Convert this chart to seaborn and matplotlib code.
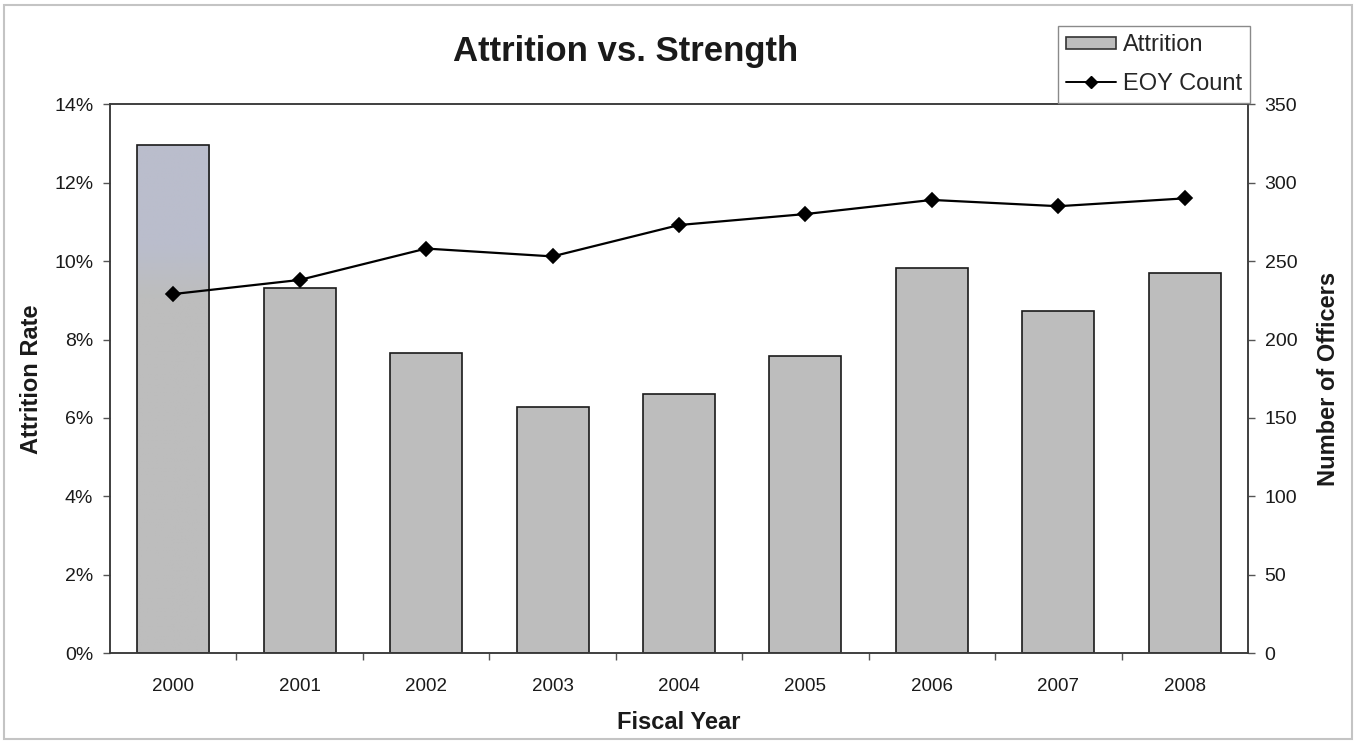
import matplotlib
matplotlib.use("Agg")
import matplotlib.pyplot as plt
import matplotlib.ticker as mticker
from matplotlib.patches import Patch, Rectangle
from matplotlib.lines import Line2D
from matplotlib.colors import to_rgb
import numpy as np
import seaborn as sns
import pandas as pd

# Fiscal years and the two series
years = ["2000", "2001", "2002", "2003", "2004", "2005", "2006", "2007", "2008"]
attrition_pct = [12.96, 9.32, 7.65, 6.29, 6.61, 7.59, 9.82, 8.74, 9.69]
eoy_count = [229, 238, 258, 253, 273, 280, 289, 285, 290]

rate_ticks = [0, 2, 4, 6, 8, 10, 12, 14]
count_ticks = [0, 50, 100, 150, 200, 250, 300, 350]

df = pd.DataFrame({"year": years, "attrition": attrition_pct, "count": eoy_count})

BAR_GRAY = "#bdbdbd"
BAR_TINT = "#babdcc"

sns.set_theme(style="white")
plt.rcParams["font.family"] = ["Liberation Sans", "DejaVu Sans"]

fig = plt.figure(figsize=(13.58, 7.44), dpi=100)
ax = fig.add_axes([0.081, 0.1219, 0.838, 0.738])

sns.barplot(data=df, x="year", y="attrition", color=BAR_GRAY, width=0.57,
            edgecolor="#1a1a1a", linewidth=1.2, saturation=1, ax=ax)

# The first bar fades from a bluish tint at the top into the plain gray
first = ax.patches[0]
x0, w, h = first.get_x(), first.get_width(), first.get_height()
t = np.linspace(0, 1, 200)
mix = np.clip((t - 0.20) / 0.10, 0, 1)[:, None]
grad = (1 - mix) * np.array(to_rgb(BAR_TINT)) + mix * np.array(to_rgb(BAR_GRAY))
img = ax.imshow(grad[:, None, :], extent=(x0, x0 + w, 0, h), aspect="auto",
                origin="upper", zorder=first.get_zorder() - 0.01, interpolation="bilinear")
img.set_clip_path(first)
first.set_facecolor("none")

ax.set_xlim(-0.5, len(years) - 0.5)
ax.set_ylim(rate_ticks[0], rate_ticks[-1])
ax.set_yticks(rate_ticks)
ax.yaxis.set_major_formatter(mticker.FuncFormatter(lambda v, p: f"{v:.0f}%"))

ax2 = ax.twinx()
sns.pointplot(data=df, x="year", y="count", color="black", markers="D",
              linestyles="-", markersize=7, linewidth=1.6, ax=ax2)
ax2.set_ylim(count_ticks[0], count_ticks[-1])
ax2.set_yticks(count_ticks)
ax2.set_xlim(-0.5, len(years) - 0.5)

# Category ticks: labels at centres, tick marks on the boundaries
ax.set_xticks(range(len(years)))
ax.set_xticklabels(years)
ax.set_xticks([i + 0.5 for i in range(len(years) - 1)], minor=True)
ax.tick_params(axis="x", which="major", length=0, pad=18, labelsize=13.5, labelcolor="#1a1a1a")
ax.tick_params(axis="x", which="minor", length=5, width=1, direction="out",
               bottom=True, color="#555555")
ax.tick_params(axis="y", left=True, length=5, width=1, direction="out",
               pad=7, labelsize=14, color="#555555", labelcolor="#1a1a1a")
ax2.tick_params(axis="y", right=True, length=5, width=1, direction="out",
                pad=7, labelsize=14, color="#555555", labelcolor="#1a1a1a")

for a in (ax, ax2):
    for s in a.spines.values():
        s.set_visible(True)
        s.set_color("#3a3a3a")
        s.set_linewidth(1.1)

ax.set_xlabel("Fiscal Year", fontsize=17, fontweight="bold", labelpad=11, color="#1a1a1a")
ax.set_ylabel("Attrition Rate", fontsize=17, fontweight="bold", labelpad=8, color="#1a1a1a")
ax2.set_ylabel("Number of Officers", fontsize=17, fontweight="bold", labelpad=14, color="#1a1a1a")

fig.text(626 / 1358, 1 - 52 / 744, "Attrition vs. Strength", ha="center", va="center",
         fontsize=25, fontweight="bold", color="#1a1a1a")

handles = [
    Patch(facecolor=BAR_GRAY, edgecolor="#333333", linewidth=1.2, label="Attrition"),
    Line2D([], [], color="black", marker="D", markersize=6, linewidth=1.4, label="EOY Count"),
]
leg = fig.legend(handles=handles, loc="upper right",
                 bbox_to_anchor=(1250 / 1358, 1 - 26 / 744), fontsize=17,
                 frameon=True, fancybox=False, handlelength=2.1, handleheight=0.45,
                 handletextpad=0.3, borderpad=0.35, labelspacing=0.7,
                 borderaxespad=0)
leg.get_frame().set_edgecolor("#8a8a8a")
leg.get_frame().set_linewidth(1.0)
leg.get_frame().set_facecolor("white")
leg.get_frame().set_alpha(1)
leg.set_zorder(10)

# Thin outer border around the chart
fig.patches.append(Rectangle((4 / 1358, 5 / 744), 1 - 10 / 1358, 1 - 10 / 744,
                             transform=fig.transFigure, fill=False,
                             edgecolor="#c4c4c4", linewidth=1.5))

fig.savefig("out.png", dpi=100, facecolor="white")
